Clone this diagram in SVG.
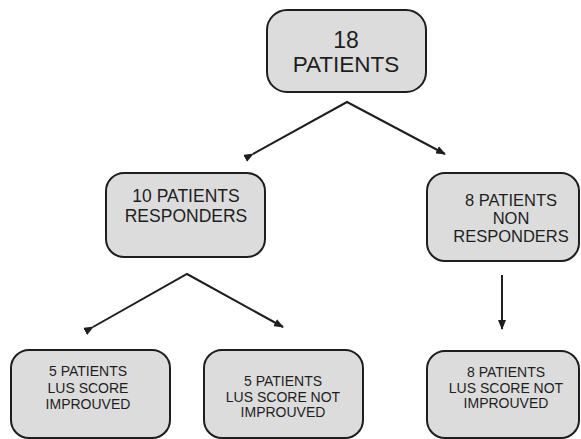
<svg xmlns="http://www.w3.org/2000/svg" width="581" height="439" viewBox="0 0 581 439">
<defs>
<marker id="ah" markerWidth="10" markerHeight="8" refX="9" refY="4" orient="auto" markerUnits="userSpaceOnUse">
<path d="M0,0 L10,4 L0,8 z" fill="#1e1e1e"/>
</marker>
<style>
.box{fill:#dcdcdc;stroke:#1e1e1e;stroke-width:2}
.t{font-family:"Liberation Sans",Arial,sans-serif;fill:#1e1e1e;text-anchor:middle}
.conn{fill:none;stroke:#1e1e1e;stroke-width:2}
</style>
</defs>
<rect width="581" height="439" fill="#ffffff"/>
<g id="connectors">
<polyline class="conn" points="253,154 347,102 445,154" marker-start="url(#ah)" marker-end="url(#ah)"/>
<polyline class="conn" points="93,327 187,274 283,327" marker-start="url(#ah)" marker-end="url(#ah)"/>
<line class="conn" x1="502" y1="275" x2="502" y2="329" marker-end="url(#ah)"/>
</g>
<g id="n18">
<rect class="box" x="267" y="10" width="159" height="82" rx="20"/>
<text class="t" x="346" y="48" font-size="23">18</text>
<text class="t" x="346" y="72" font-size="22.5">PATIENTS</text>
</g>
<g id="responders">
<rect class="box" x="106" y="173" width="159" height="84" rx="18"/>
<text class="t" x="186" y="202" font-size="17.5">10 PATIENTS</text>
<text class="t" x="186" y="222" font-size="17.5">RESPONDERS</text>
</g>
<g id="nonresponders">
<rect class="box" x="427" y="173" width="152" height="88" rx="18"/>
<text class="t" x="511" y="206" font-size="16.5">8 PATIENTS</text>
<text class="t" x="511" y="224" font-size="16.5">NON</text>
<text class="t" x="511" y="242" font-size="16.5">RESPONDERS</text>
</g>
<g id="improved">
<rect class="box" x="11" y="350" width="159" height="88" rx="18"/>
<text class="t" x="88" y="376" font-size="14">5 PATIENTS</text>
<text class="t" x="88" y="393" font-size="14">LUS SCORE</text>
<text class="t" x="88" y="409" font-size="14">IMPROUVED</text>
</g>
<g id="notimproved5">
<rect class="box" x="204" y="350" width="159" height="88" rx="18"/>
<text class="t" x="283" y="386" font-size="14">5 PATIENTS</text>
<text class="t" x="283" y="402" font-size="14">LUS SCORE NOT</text>
<text class="t" x="283" y="417" font-size="14">IMPROUVED</text>
</g>
<g id="notimproved8">
<rect class="box" x="427" y="351" width="152" height="87" rx="18"/>
<text class="t" x="506" y="377" font-size="14">8 PATIENTS</text>
<text class="t" x="506" y="393" font-size="14">LUS SCORE NOT</text>
<text class="t" x="506" y="408" font-size="14">IMPROUVED</text>
</g>
</svg>
